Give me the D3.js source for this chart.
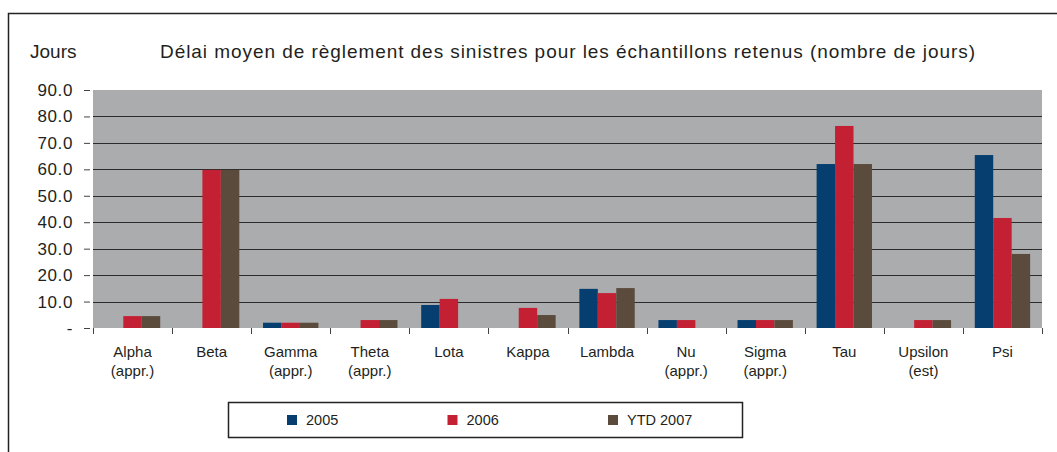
<!DOCTYPE html>
<html>
<head>
<meta charset="utf-8">
<script src="https://cdn.jsdelivr.net/npm/d3@7"></script>
<style>
  body { margin: 0; background: #fff; }
  svg text { font-family: "Liberation Sans", Arial, sans-serif; fill: #231f20; }
</style>
</head>
<body>
<div id="chart"></div>
<script>
// chart data
const categories = ['Alpha|(appr.)', 'Beta', 'Gamma|(appr.)', 'Theta|(appr.)', 'Lota', 'Kappa',
  'Lambda', 'Nu|(appr.)', 'Sigma|(appr.)', 'Tau', 'Upsilon|(est)', 'Psi'];
const seriesNames = ['2005', '2006', 'YTD 2007'];
const values2005 = [null, null, 2.0, null, 8.7, null, 14.8, 3.0, 3.0, 62.0, null, 65.4];
const values2006 = [4.5, 59.8, 2.0, 3.0, 11.0, 7.6, 13.2, 3.0, 3.0, 76.4, 3.0, 41.6];
const valuesYtd2007 = [4.5, 59.8, 2.0, 3.0, null, 4.9, 15.1, null, 3.0, 62.0, 3.0, 28.0];
const yTicks = [0, 10, 20, 30, 40, 50, 60, 70, 80, 90];
const colors = ['#053e6f', '#c32133', '#5a4b3d'];

const width = 1057, height = 452;
const margin = { top: 90, right: 15, bottom: 124, left: 93 };
const plotW = 1042 - margin.left;
const plotH = height - margin.top - margin.bottom;

const svg = d3.select('#chart')
  .append('svg')
  .attr('width', width)
  .attr('height', height);

// outer frame (runs off the right and bottom edges)
svg.append('rect')
  .attr('x', 8.5).attr('y', 13.5)
  .attr('width', 1200).attr('height', 600)
  .attr('fill', 'none')
  .attr('stroke', '#222')
  .attr('stroke-width', 1.5);

svg.append('text')
  .attr('x', 30).attr('y', 58)
  .style('font-size', '19px')
  .text('Jours');

svg.append('text')
  .attr('x', 160).attr('y', 58)
  .attr('textLength', 815)
  .attr('lengthAdjust', 'spacing')
  .style('font-size', '19px')
  .text('Délai moyen de règlement des sinistres pour les échantillons retenus (nombre de jours)');

const g = svg.append('g')
  .attr('transform', 'translate(' + margin.left + ',' + margin.top + ')');

const y = d3.scaleLinear().domain([0, 90]).range([plotH, 0]);
const x0 = d3.scaleBand().domain(categories).range([0, plotW]).padding(0);
const x1 = d3.scaleBand().domain(seriesNames)
  .range([x0.bandwidth() * 0.15, x0.bandwidth() * 0.85]);

// plot background
g.append('rect')
  .attr('width', plotW)
  .attr('height', plotH)
  .attr('fill', '#abacae');

// gridlines
g.selectAll('.grid')
  .data(yTicks.filter(d => d > 0 && d < 90))
  .enter()
  .append('line')
  .attr('class', 'grid')
  .attr('x1', 0).attr('x2', plotW)
  .attr('y1', d => Math.round(y(d)) + 0.5)
  .attr('y2', d => Math.round(y(d)) + 0.5)
  .attr('stroke', '#2b2b2b')
  .attr('stroke-width', 1.2);

// bars
const table = categories.map((c, i) => ({
  cat: c,
  vals: [values2005[i], values2006[i], valuesYtd2007[i]]
}));

const groups = g.selectAll('.cat')
  .data(table)
  .enter()
  .append('g')
  .attr('class', 'cat')
  .attr('transform', d => 'translate(' + x0(d.cat) + ',0)');

groups.selectAll('rect')
  .data(d => d.vals.map((v, k) => ({ name: seriesNames[k], v: v, k: k })).filter(e => e.v != null))
  .enter()
  .append('rect')
  .attr('x', e => x1(e.name))
  .attr('width', x1.bandwidth())
  .attr('y', e => y(e.v))
  .attr('height', e => plotH - y(e.v))
  .attr('fill', e => colors[e.k]);

// y axis: ticks sit a little left of the plot
const yAxis = g.append('g')
  .attr('transform', 'translate(-3,0)')
  .call(d3.axisLeft(y).tickValues(yTicks).tickSize(6).tickPadding(11)
    .tickFormat(d => d === 0 ? '-' : d3.format('.1f')(d)));
yAxis.select('.domain').remove();
yAxis.selectAll('line').attr('stroke', '#444');
yAxis.selectAll('text')
  .style('font-size', '17px')
  .style('letter-spacing', '0.6px')
  .style('font-family', '"Liberation Sans", Arial, sans-serif')
  .attr('fill', '#231f20');

// x axis: tick marks at band boundaries
const xAxis = g.append('g').attr('transform', 'translate(0,' + plotH + ')');
xAxis.selectAll('.xt')
  .data(categories.concat(['end']))
  .enter()
  .append('line')
  .attr('x1', (d, i) => Math.round(i * x0.step()) + 0.5)
  .attr('x2', (d, i) => Math.round(i * x0.step()) + 0.5)
  .attr('y1', 0).attr('y2', 6)
  .attr('stroke', '#444');

const xLabels = xAxis.selectAll('.xl')
  .data(categories)
  .enter()
  .append('text')
  .attr('class', 'xl')
  .attr('text-anchor', 'middle')
  .attr('transform', d => 'translate(' + (x0(d) + x0.bandwidth() / 2) + ',0)')
  .style('font-size', '15px');
xLabels.each(function (d) {
  const parts = d.split('|');
  d3.select(this).selectAll('tspan')
    .data(parts)
    .enter()
    .append('tspan')
    .attr('x', 0)
    .attr('y', (p, i) => 29 + i * 19)
    .text(p => p);
});

// legend
const legend = svg.append('g').attr('class', 'legend-wrapper');
legend.append('rect')
  .attr('x', 228.5).attr('y', 402.5)
  .attr('width', 514).attr('height', 35)
  .attr('fill', '#fff')
  .attr('stroke', '#222')
  .attr('stroke-width', 1.5);

const items = legend.selectAll('.legend')
  .data(seriesNames)
  .enter()
  .append('g')
  .attr('class', 'legend')
  .attr('transform', (d, i) => 'translate(' + (287 + i * 160.5) + ',415)');
items.append('rect')
  .attr('width', 10).attr('height', 10)
  .attr('fill', (d, i) => colors[i]);
items.append('text')
  .attr('x', 19).attr('y', 10)
  .style('font-size', '14.5px')
  .text(d => d);
</script>
</body>
</html>
